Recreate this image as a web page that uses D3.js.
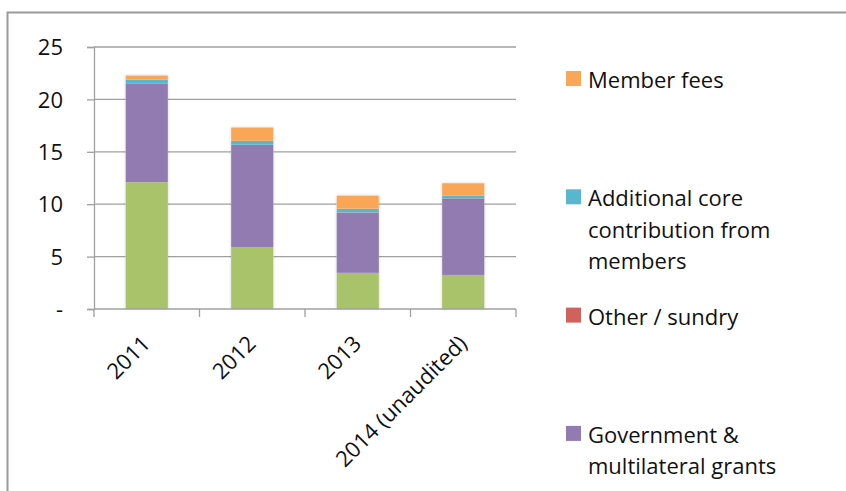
<!DOCTYPE html>
<html>
<head>
<meta charset="utf-8">
<script src="https://cdn.jsdelivr.net/npm/d3@7"></script>
<style>
  body { margin: 0; background: #fff; }
  svg text { font-family: "Open Sans", "Liberation Sans", sans-serif; fill: #111; }
</style>
</head>
<body>
<svg id="chart" width="846" height="491"></svg>
<script>
const categories = ["2011", "2012", "2013", "2014 (unaudited)"];
const yTicks = [0, 5, 10, 15, 20, 25];

// stacked bottom -> top
const greenVals   = [12.1, 5.9, 3.45, 3.25];
const govVals     = [9.4, 9.75, 5.75, 7.15];
const otherVals   = [0.05, 0.02, 0.02, 0.15];
const addCoreVals = [0.35, 0.38, 0.35, 0.25];
const feeVals     = [0.38, 1.27, 1.25, 1.2];

const series = [
  { key: "green", name: null, values: greenVals, color: "#a8c36a" },
  { key: "gov", name: ["Government &", "multilateral grants"], values: govVals, color: "#917bb0" },
  { key: "other", name: ["Other / sundry"], values: otherVals, color: "#d0625e" },
  { key: "core", name: ["Additional core", "contribution from", "members"], values: addCoreVals, color: "#58b7cf" },
  { key: "fees", name: ["Member fees"], values: feeVals, color: "#f9a656" }
];

const SIZE = { left: 94, right: 516, top: 47, bottom: 309 };
const FONT = 22;
const svg = d3.select("#chart");

// outer frame
svg.append("path")
  .attr("d", "M7.5,491 V12.5 H846")
  .attr("fill", "none")
  .attr("stroke", "#9a9a9a")
  .attr("stroke-width", 2);

const defs = svg.append("defs");
const shadow = defs.append("filter").attr("id", "shadow")
  .attr("x", "-20%").attr("y", "-5%").attr("width", "140%").attr("height", "110%");
shadow.append("feDropShadow")
  .attr("dx", 0).attr("dy", 0).attr("stdDeviation", 1.5)
  .attr("flood-color", "#000").attr("flood-opacity", 0.18);

const x = d3.scaleBand()
  .domain(categories)
  .range([SIZE.left, SIZE.right])
  .paddingInner(0.6)
  .paddingOuter(0.3);

const y = d3.scaleLinear()
  .domain([0, 25])
  .range([SIZE.bottom, SIZE.top]);

// gridlines
svg.append("g")
  .selectAll("line")
  .data(yTicks.filter(d => d > 0))
  .join("line")
  .attr("x1", SIZE.left).attr("x2", SIZE.right)
  .attr("y1", d => y(d)).attr("y2", d => y(d))
  .attr("stroke", "#a0a0a0").attr("stroke-width", 1.3);

// y axis
const yAxis = svg.append("g")
  .attr("transform", `translate(${SIZE.left},0)`)
  .call(d3.axisLeft(y).tickValues(yTicks).tickSize(7).tickPadding(24)
    .tickFormat(d => d === 0 ? "-" : d));
yAxis.select(".domain").attr("stroke", "#a0a0a0").attr("stroke-width", 1.3);
yAxis.selectAll(".tick line").attr("stroke", "#a0a0a0").attr("stroke-width", 1.3);
yAxis.selectAll(".tick text")
  .attr("font-size", FONT).attr("dy", "0.35em")
  .style("font-family", "'Open Sans', sans-serif");

// stacked data
const table = categories.map((c, i) => {
  const row = { cat: c };
  series.forEach(s => { row[s.key] = s.values[i]; });
  return row;
});
const stack = d3.stack().keys(series.map(s => s.key));
const layers = stack(table);

const barG = svg.append("g");
// shadow body behind each full bar
barG.selectAll("rect.bg")
  .data(table)
  .join("rect")
  .attr("class", "bg")
  .attr("x", d => x(d.cat))
  .attr("width", x.bandwidth())
  .attr("y", d => y(d3.sum(series, s => d[s.key])))
  .attr("height", d => y(0) - y(d3.sum(series, s => d[s.key])))
  .attr("fill", "#fff")
  .attr("filter", "url(#shadow)");

barG.selectAll("g.layer")
  .data(layers)
  .join("g")
  .attr("class", "layer")
  .attr("fill", (d, i) => series[i].color)
  .selectAll("rect")
  .data(d => d)
  .join("rect")
  .attr("x", d => x(d.data.cat))
  .attr("width", x.bandwidth())
  .attr("y", d => y(d[1]))
  .attr("height", d => Math.max(0, y(d[0]) - y(d[1])));

// x axis
const xAxis = svg.append("g")
  .attr("transform", `translate(0,${SIZE.bottom})`);
xAxis.append("line")
  .attr("x1", SIZE.left).attr("x2", SIZE.right)
  .attr("stroke", "#a0a0a0").attr("stroke-width", 1.3);
const bounds = categories.map(c => x(c) - x.step() * x.paddingInner() / 2)
  .concat([SIZE.right]);
xAxis.selectAll("line.tk")
  .data(bounds)
  .join("line")
  .attr("class", "tk")
  .attr("x1", d => d).attr("x2", d => d)
  .attr("y1", 0).attr("y2", 8)
  .attr("stroke", "#a0a0a0").attr("stroke-width", 1.3);
xAxis.selectAll("text")
  .data(categories)
  .join("text")
  .attr("text-anchor", "end")
  .attr("font-size", FONT)
  .attr("transform", d => `translate(${x(d) + x.bandwidth() / 2 + 5},${36}) rotate(-45)`)
  .text(d => d);

// legend (top = last series)
const legend = svg.append("g");
const legendItems = series.slice().reverse().filter(s => s.name);
const entry = legend.selectAll("g")
  .data(legendItems)
  .join("g")
  .attr("transform", (d, i) => `translate(566,${71 + i * 118.3})`);
entry.append("rect")
  .attr("width", 15).attr("height", 15)
  .attr("fill", d => d.color);
entry.append("text")
  .attr("font-size", FONT)
  .selectAll("tspan")
  .data(d => d.name)
  .join("tspan")
  .attr("x", 22)
  .attr("y", (d, i) => 17 + i * 31.5)
  .text(d => d);
</script>
</body>
</html>
